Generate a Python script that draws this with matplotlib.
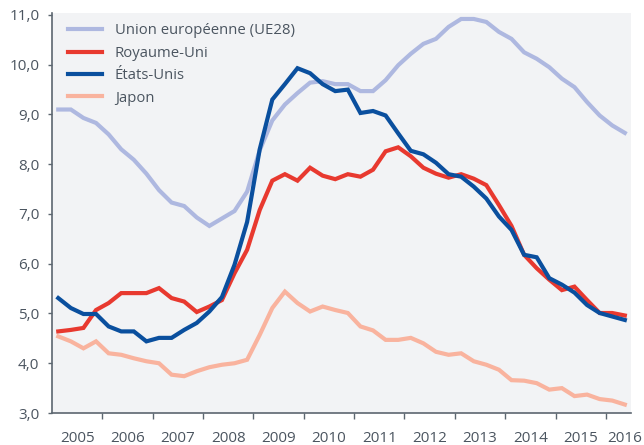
import numpy as np
import matplotlib
matplotlib.use("Agg")
import matplotlib.pyplot as plt
from matplotlib.ticker import FuncFormatter

plt.rcParams['font.family'] = ['Open Sans', 'DejaVu Sans']

# quarterly data, 2005 T1 -> 2016 T2
quarters = 2005.125 + 0.25 * np.arange(46)

ue28 = [9.10, 9.10, 8.93, 8.83, 8.60, 8.30, 8.09, 7.81, 7.48, 7.23, 7.16, 6.93,
        6.76, 6.91, 7.06, 7.45, 8.28, 8.88, 9.20, 9.43, 9.64, 9.67, 9.61, 9.61,
        9.47, 9.47, 9.69, 9.99, 10.22, 10.42, 10.52, 10.76, 10.92, 10.92, 10.86, 10.66,
        10.52, 10.25, 10.12, 9.95, 9.72, 9.55, 9.25, 8.98, 8.78, 8.63]

royaume_uni = [4.64, 4.67, 4.71, 5.07, 5.21, 5.41, 5.41, 5.41, 5.51, 5.31, 5.24, 5.03,
               5.14, 5.27, 5.81, 6.28, 7.08, 7.67, 7.80, 7.67, 7.93, 7.77, 7.70, 7.80,
               7.75, 7.89, 8.26, 8.34, 8.16, 7.93, 7.81, 7.73, 7.80, 7.71, 7.58, 7.18,
               6.76, 6.18, 5.91, 5.68, 5.47, 5.54, 5.27, 5.01, 5.01, 4.96]

etats_unis = [5.31, 5.11, 4.99, 4.99, 4.74, 4.64, 4.64, 4.44, 4.51, 4.51, 4.67, 4.81,
              5.04, 5.33, 5.98, 6.84, 8.30, 9.30, 9.61, 9.93, 9.83, 9.61, 9.47, 9.50,
              9.03, 9.07, 8.98, 8.62, 8.27, 8.20, 8.03, 7.80, 7.75, 7.55, 7.31, 6.95,
              6.68, 6.18, 6.13, 5.71, 5.58, 5.42, 5.17, 5.01, 4.94, 4.87]

japon = [4.54, 4.44, 4.30, 4.44, 4.20, 4.17, 4.10, 4.04, 4.00, 3.77, 3.74, 3.84,
         3.92, 3.97, 4.00, 4.07, 4.57, 5.11, 5.44, 5.21, 5.04, 5.14, 5.07, 5.01,
         4.74, 4.66, 4.47, 4.47, 4.51, 4.40, 4.23, 4.17, 4.20, 4.04, 3.97, 3.87,
         3.66, 3.65, 3.60, 3.47, 3.50, 3.34, 3.37, 3.28, 3.25, 3.17]

series_names = ["Union européenne (UE28)", "Royaume-Uni", "États-Unis", "Japon"]
series_colors = ["#aeb8e0", "#e8392f", "#0a4f9e", "#f9b39e"]

year_labels = ["2005", "2006", "2007", "2008", "2009", "2010", "2011",
               "2012", "2013", "2014", "2015", "2016"]
year_label_pos = [2005.5, 2006.5, 2007.5, 2008.5, 2009.5, 2010.5, 2011.5,
                  2012.5, 2013.5, 2014.5, 2015.5, 2016.38]

text_col = "#4b5560"
spine_col = "#5c6670"

fig = plt.figure(figsize=(6.44, 4.45), dpi=100)
ax = fig.add_axes([0.0807, 0.0719, 0.8993, 0.8989])
ax.set_facecolor("#f2f3f5")

for vals, name, col in zip([ue28, royaume_uni, etats_unis, japon], series_names, series_colors):
    ax.plot(quarters, vals, color=col, lw=3.0, label=name, solid_joinstyle='miter')

ax.set_xlim(2005, 2016.5)
ax.set_ylim(3.0, 11.04)

ax.set_yticks(np.arange(3, 12, 1))
ax.yaxis.set_major_formatter(FuncFormatter(lambda v, p: f"{v:.1f}".replace(".", ",")))

# year boundaries as ticks, labels in the middle of each year
ax.set_xticks(np.arange(2006, 2017, 1))
ax.set_xticklabels([])
ax.set_xticks(year_label_pos, minor=True)
ax.set_xticklabels(year_labels, minor=True)
ax.tick_params(axis='x', which='major', length=4, width=1, color=spine_col, direction='out')
ax.tick_params(axis='x', which='minor', length=0, pad=13, labelsize=11, labelcolor=text_col)
ax.tick_params(axis='y', length=3, width=1, color=spine_col, pad=6, labelsize=11, labelcolor=text_col)

for s in ['top', 'right']:
    ax.spines[s].set_visible(False)
for s in ['left', 'bottom']:
    ax.spines[s].set_color(spine_col)
    ax.spines[s].set_linewidth(1.2)

leg = ax.legend(loc='upper left', frameon=False, fontsize=10.7, handlelength=2.3,
                handletextpad=0.85, labelspacing=0.5, borderaxespad=0.3,
                bbox_to_anchor=(0.01, 1.0))
for t in leg.get_texts():
    t.set_color(text_col)

fig.savefig("out.png", dpi=100, facecolor="white")
